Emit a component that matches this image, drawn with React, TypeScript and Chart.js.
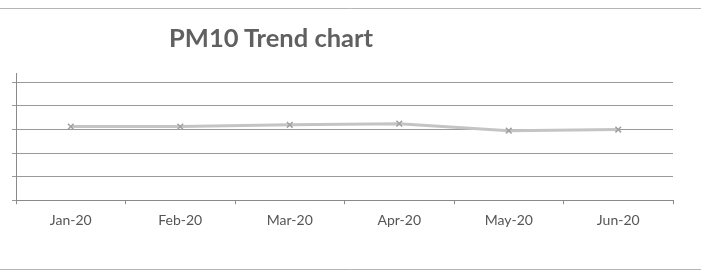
import React, { useEffect, useRef } from "react";
import { Chart, registerables } from "chart.js";

Chart.register(...registerables);

const categories = ["Jan-20", "Feb-20", "Mar-20", "Apr-20", "May-20", "Jun-20"];
const pm10Values = [62.5, 62.5, 64, 65, 59, 60];
const yTickValues = [0, 20, 40, 60, 80, 100];
const titleText = "PM10 Trend chart";

const framePlugin = {
  id: "frameLines",
  beforeDraw(chart: any) {
    const { ctx, width } = chart;
    ctx.save();
    ctx.strokeStyle = "#b5b5b5";
    ctx.lineWidth = 1;
    ctx.beginPath();
    ctx.moveTo(0, 8.5);
    ctx.lineTo(width, 8.5);
    ctx.moveTo(0, 269.5);
    ctx.lineTo(width, 269.5);
    ctx.stroke();
    ctx.restore();
  },
};

export default function App() {
  const ref = useRef<HTMLCanvasElement | null>(null);
  useEffect(() => {
    document.body.style.margin = "0";
    const chart = new Chart(ref.current!, {
      type: "line",
      data: {
        labels: categories,
        datasets: [
          {
            label: "PM10",
            data: pm10Values,
            borderColor: "#c4c4c4",
            borderWidth: 3,
            pointStyle: "crossRot",
            pointRadius: 4,
            pointBorderColor: "#a0a0a0",
            pointBorderWidth: 1.5,
            tension: 0,
          },
        ],
      },
      options: {
        animation: false,
        responsive: false,
        layout: { padding: { left: 12, right: 28, top: 73, bottom: 36 } },
        plugins: { legend: { display: false }, title: { display: false }, tooltip: { enabled: false } },
        scales: {
          x: {
            offset: true,
            grid: { offset: true, drawOnChartArea: false, color: "#8a8a8a", tickLength: 4 },
            border: { color: "#8a8a8a" },
            ticks: { color: "#555555", font: { family: "Lato", size: 14 }, padding: 8 },
          },
          y: {
            min: 0,
            max: 108,
            afterBuildTicks: (scale: any) => {
              scale.ticks = [...yTickValues, 108].map((v) => ({ value: v }));
            },
            grid: {
              color: (c: any) => (c.tick && c.tick.value === 108 ? "rgba(0,0,0,0)" : "#9a9a9a"),
              tickLength: 4,
            },
            border: { color: "#8a8a8a" },
            ticks: { display: false },
          },
        },
      },
      plugins: [framePlugin],
    });
    return () => chart.destroy();
  }, []);
  return (
    <div style={{ position: "relative", width: 701, height: 273 }}>
      <canvas ref={ref} width={701} height={273} style={{ display: "block" }} />
      <div
        style={{
          position: "absolute",
          left: 169,
          top: 22,
          fontFamily: "Lato",
          fontWeight: 700,
          fontSize: 25.5,
          color: "#606060",
          whiteSpace: "nowrap",
          lineHeight: "30px",
        }}
      >
        {titleText}
      </div>
    </div>
  );
}
